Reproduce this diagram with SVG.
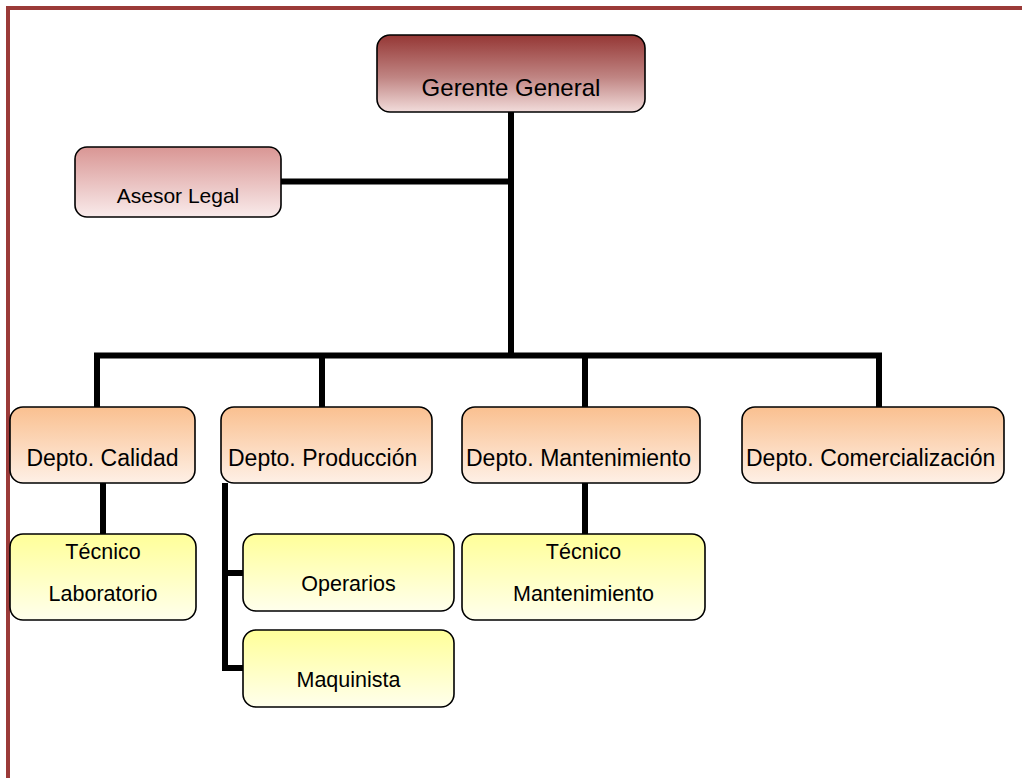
<svg xmlns="http://www.w3.org/2000/svg" width="1022" height="778" viewBox="0 0 1022 778">
<defs>
<linearGradient id="gRed" x1="0" y1="0" x2="0" y2="1">
<stop offset="0" stop-color="#953735"/>
<stop offset="0.55" stop-color="#c08583"/>
<stop offset="1" stop-color="#f2dcdb"/>
</linearGradient>
<linearGradient id="gPink" x1="0" y1="0" x2="0" y2="1">
<stop offset="0" stop-color="#d99694"/>
<stop offset="1" stop-color="#f9ebeb"/>
</linearGradient>
<linearGradient id="gOrange" x1="0" y1="0" x2="0" y2="1">
<stop offset="0" stop-color="#fac090"/>
<stop offset="1" stop-color="#fef0e6"/>
</linearGradient>
<linearGradient id="gYellow" x1="0" y1="0" x2="0" y2="1">
<stop offset="0" stop-color="#ffff99"/>
<stop offset="1" stop-color="#ffffec"/>
</linearGradient>
<style>
.box{stroke:#000;stroke-width:1.6}
.t{font-family:"Liberation Sans",Arial,sans-serif;fill:#000}
.conn{stroke:#000;stroke-width:6;fill:none;stroke-linecap:butt;stroke-linejoin:miter}
</style>
</defs>
<rect width="1022" height="778" fill="#fff"/>
<g id="border">
<path d="M8,778 V8 H1022" fill="none" stroke="#9b3a38" stroke-width="4"/>
</g>
<g id="connectors">
<path class="conn" d="M511,112 V355.5"/>
<path class="conn" d="M281,181.5 H511"/>
<path class="conn" d="M97,407 V355.5 H879 V407"/>
<path class="conn" d="M322,355.5 V407"/>
<path class="conn" d="M585,355.5 V407"/>
<path class="conn" d="M103,483 V534"/>
<path class="conn" d="M585,483 V534"/>
<path class="conn" d="M225,483 V668 H243"/>
<path class="conn" d="M225,573 H243"/>
</g>
<g id="gerente">
<rect class="box" x="377" y="35" width="268" height="77" rx="13" fill="url(#gRed)"/>
<text class="t" x="511" y="96" font-size="24" text-anchor="middle">Gerente General</text>
</g>
<g id="asesor">
<rect class="box" x="75" y="147" width="206" height="70" rx="12" fill="url(#gPink)"/>
<text class="t" x="178" y="203" font-size="21" text-anchor="middle">Asesor Legal</text>
</g>
<g id="calidad">
<rect class="box" x="10" y="407" width="185" height="76" rx="13" fill="url(#gOrange)"/>
<text class="t" x="102.5" y="466" font-size="23" text-anchor="middle">Depto. Calidad</text>
</g>
<g id="produccion">
<rect class="box" x="221" y="407" width="211" height="76" rx="13" fill="url(#gOrange)"/>
<text class="t" x="228" y="466" font-size="23">Depto. Producción</text>
</g>
<g id="mantenimiento">
<rect class="box" x="462" y="407" width="238" height="76" rx="13" fill="url(#gOrange)"/>
<text class="t" x="466" y="466" font-size="23">Depto. Mantenimiento</text>
</g>
<g id="comercializacion">
<rect class="box" x="742" y="407" width="262" height="76" rx="13" fill="url(#gOrange)"/>
<text class="t" x="746" y="466" font-size="23">Depto. Comercialización</text>
</g>
<g id="tecnico-laboratorio">
<rect class="box" x="10" y="534" width="186" height="86" rx="13" fill="url(#gYellow)"/>
<text class="t" x="103" y="559" font-size="21.5" text-anchor="middle">Técnico</text>
<text class="t" x="103" y="601" font-size="21.5" text-anchor="middle">Laboratorio</text>
</g>
<g id="operarios">
<rect class="box" x="243" y="534" width="211" height="77" rx="13" fill="url(#gYellow)"/>
<text class="t" x="348.5" y="591" font-size="21.5" text-anchor="middle">Operarios</text>
</g>
<g id="maquinista">
<rect class="box" x="243" y="630" width="211" height="77" rx="13" fill="url(#gYellow)"/>
<text class="t" x="348.5" y="687" font-size="21.5" text-anchor="middle">Maquinista</text>
</g>
<g id="tecnico-mantenimiento">
<rect class="box" x="462" y="534" width="243" height="86" rx="13" fill="url(#gYellow)"/>
<text class="t" x="583.5" y="559" font-size="21.5" text-anchor="middle">Técnico</text>
<text class="t" x="583.5" y="601" font-size="21.5" text-anchor="middle">Mantenimiento</text>
</g>
</svg>
